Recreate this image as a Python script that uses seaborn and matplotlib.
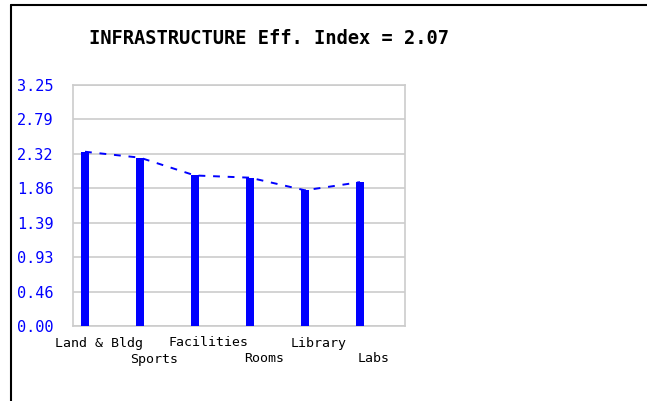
"""Infrastructure efficiency index bar chart."""

import matplotlib

matplotlib.use("Agg")
import matplotlib.pyplot as plt
import matplotlib.lines as mlines
import matplotlib.transforms as mtransforms
import numpy as np
import pandas as pd
import seaborn as sns

categories = ["Land & Bldg", "Sports", "Facilities", "Rooms", "Library", "Labs"]
scores = [2.35, 2.27, 2.03, 2.00, 1.83, 1.94]
index_value = 2.07
y_max = 3.25
y_ticks = np.linspace(0, y_max, 8)
y_tick_labels = [f"{t:.2f}" for t in y_ticks]

BLUE = "#0000ff"
GRID = "#cccccc"
MONO = "DejaVu Sans Mono"

sns.set_theme(style="white")
plt.rcParams["font.family"] = [MONO, "DejaVu Sans"]

frame = pd.DataFrame({"category": categories, "score": scores})

fig = plt.figure(figsize=(6.47, 4.01), dpi=100)
ax = fig.add_axes([73 / 647, 75 / 401, 332 / 647, 241 / 401])

sns.barplot(data=frame, x="category", y="score", color=BLUE, saturation=1,
            width=0.145, linewidth=0, ax=ax, zorder=3)
sns.lineplot(x=np.arange(len(scores)), y=scores, color=BLUE, lw=1.4,
             dashes=[(3.5, 4)], style=np.zeros(len(scores)), legend=False,
             ax=ax, zorder=2)

ax.set_xlim(-0.218, len(categories) - 1 + 0.818)
ax.set_ylim(0, y_max)
ax.set_yticks(y_ticks)
ax.set_yticklabels(y_tick_labels, color=BLUE, fontsize=11, family=MONO)
ax.tick_params(axis="y", length=0, pad=14)
ax.set_xticks([])
ax.set_xlabel("")
ax.set_ylabel("")
ax.yaxis.grid(True, color=GRID, lw=1.2, zorder=0)
ax.set_axisbelow(True)
for spine in ax.spines.values():
    spine.set_color(GRID)
    spine.set_linewidth(1.2)

# staggered category labels, shifted right of the bars like the original
trans = mtransforms.blended_transform_factory(ax.transData, fig.transFigure)
for i, name in enumerate(categories):
    y = (401 - 343) / 401 if i % 2 == 0 else (401 - 359) / 401
    ax.text(i + 0.25, y, name, transform=trans, ha="center", va="center",
            fontsize=9.5, family=MONO, color="black")

fig.text(269 / 647, 1 - 38 / 401, f"INFRASTRUCTURE Eff. Index = {index_value:.2f}",
         ha="center", va="center", fontsize=13.5, fontweight="bold",
         family=MONO, color="black")

# outer frame (left and top edges)
fig.add_artist(mlines.Line2D([11 / 647, 11 / 647], [0, 1 - 5 / 401],
                             transform=fig.transFigure, color="black", lw=1.5))
fig.add_artist(mlines.Line2D([11 / 647, 1], [1 - 5 / 401, 1 - 5 / 401],
                             transform=fig.transFigure, color="black", lw=1.5))

fig.savefig("out.png", dpi=100)
plt.close(fig)
